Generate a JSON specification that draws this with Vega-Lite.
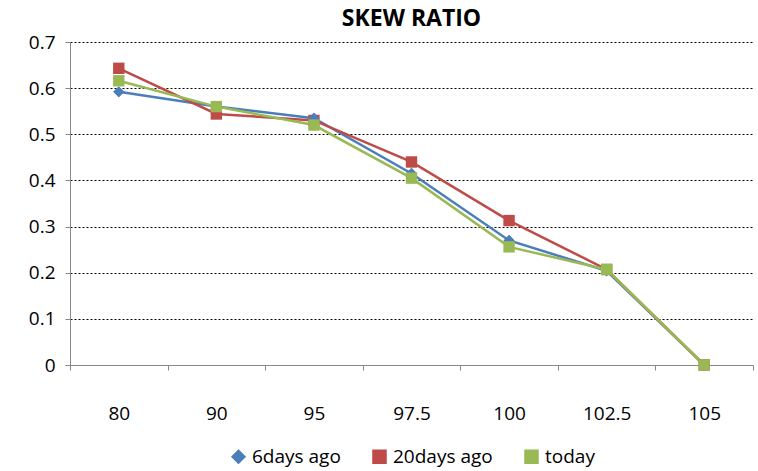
{
  "$schema": "https://vega.github.io/schema/vega-lite/v6.json",
  "width": 758,
  "height": 471,
  "autosize": {"type": "fit", "contains": "padding"},
  "padding": {"left": 28, "right": 4, "top": 8, "bottom": 4},
  "background": "white",
  "title": {"text": "SKEW RATIO", "font": "Open Sans", "fontSize": 23, "fontWeight": "bold", "color": "black", "offset": 2},
  "data": {
    "values": [
      {"strike": "80", "series": "6days ago", "ratio": 0.592},
      {"strike": "90", "series": "6days ago", "ratio": 0.56},
      {"strike": "95", "series": "6days ago", "ratio": 0.535},
      {"strike": "97.5", "series": "6days ago", "ratio": 0.415},
      {"strike": "100", "series": "6days ago", "ratio": 0.27},
      {"strike": "102.5", "series": "6days ago", "ratio": 0.204},
      {"strike": "105", "series": "6days ago", "ratio": 0},
      {"strike": "80", "series": "20days ago", "ratio": 0.643},
      {"strike": "90", "series": "20days ago", "ratio": 0.544},
      {"strike": "95", "series": "20days ago", "ratio": 0.53},
      {"strike": "97.5", "series": "20days ago", "ratio": 0.44},
      {"strike": "100", "series": "20days ago", "ratio": 0.313},
      {"strike": "102.5", "series": "20days ago", "ratio": 0.207},
      {"strike": "105", "series": "20days ago", "ratio": 0},
      {"strike": "80", "series": "today", "ratio": 0.616},
      {"strike": "90", "series": "today", "ratio": 0.56},
      {"strike": "95", "series": "today", "ratio": 0.52},
      {"strike": "97.5", "series": "today", "ratio": 0.405},
      {"strike": "100", "series": "today", "ratio": 0.256},
      {"strike": "102.5", "series": "today", "ratio": 0.207},
      {"strike": "105", "series": "today", "ratio": 0}
    ]
  },
  "mark": {"type": "line", "strokeWidth": 2.5, "point": {"size": 130, "filled": true, "opacity": 1}},
  "encoding": {
    "x": {
      "field": "strike", "type": "ordinal",
      "sort": ["80", "90", "95", "97.5", "100", "102.5", "105"],
      "scale": {"paddingOuter": 0, "paddingInner": 0},
      "axis": {"title": null, "labelAngle": 0, "labelFont": "Open Sans", "labelFontSize": 19, "labelColor": "black", "domainColor": "#888", "tickColor": "#888", "tickBand": "extent", "labelPadding": 34, "grid": false}
    },
    "y": {
      "field": "ratio", "type": "quantitative",
      "scale": {"domain": [0, 0.7]},
      "axis": {"title": null, "tickCount": 7, "format": ".1~f", "labelFont": "Open Sans", "labelFontSize": 19, "labelColor": "black", "domainColor": "#888", "tickColor": "#888", "gridColor": "black", "gridDash": [2, 2], "labelPadding": 10}
    },
    "color": {
      "field": "series", "type": "nominal",
      "sort": ["6days ago", "20days ago", "today"],
      "scale": {"domain": ["6days ago", "20days ago", "today"], "range": ["#4a7ebb", "#be4b48", "#98b954"]},
      "legend": {"title": null, "orient": "bottom", "direction": "horizontal", "labelFont": "Open Sans", "labelFontSize": 19, "labelColor": "black", "symbolSize": 170, "columnPadding": 28, "offset": 24}
    },
    "shape": {
      "field": "series", "type": "nominal",
      "scale": {"domain": ["6days ago", "20days ago", "today"], "range": ["diamond", "square", "square"]},
      "legend": null
    },
    "order": {"field": "series"}
  },
  "config": {
    "view": {"stroke": null},
    "legend": {"layout": {"bottom": {"anchor": "middle"}}}
  }
}
